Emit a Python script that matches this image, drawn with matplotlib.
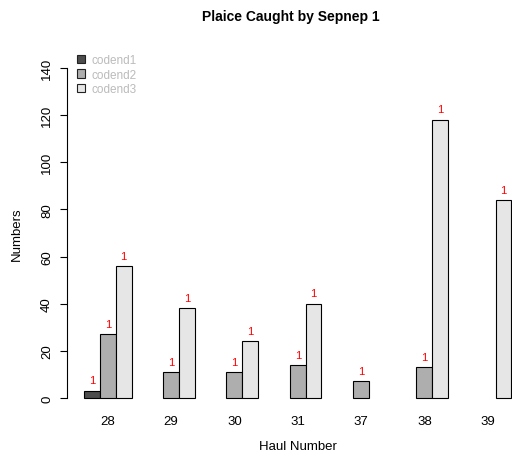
import numpy as np
import matplotlib
matplotlib.use('Agg')
import matplotlib.pyplot as plt
from matplotlib.patches import Patch

plt.rcParams['font.family'] = ['Liberation Sans', 'DejaVu Sans']

# data
hauls = ['28', '29', '30', '31', '37', '38', '39']
series_names = ['codend1', 'codend2', 'codend3']
codend1 = [3, 0, 0, 0, 0, 0, 0]
codend2 = [27, 11, 11, 14, 7, 13, 0]
codend3 = [56, 38, 24, 40, 0, 118, 84]
# number shown in red over each bar
codend1_n = [1, 0, 0, 0, 0, 0, 0]
codend2_n = [1, 1, 1, 1, 1, 1, 0]
codend3_n = [1, 1, 1, 1, 0, 1, 1]

colors = ['#4D4D4D', '#AEAEAE', '#E6E6E6']

fig = plt.figure(figsize=(5.12, 4.6), dpi=100)
# R style plot region, the right side runs past the figure edge
ax = fig.add_axes([0.1307, 0.104, 0.9016, 0.7748])

values = [codend1, codend2, codend3]
counts = [codend1_n, codend2_n, codend3_n]
ngroup = len(hauls)
group_start = 1 + 4 * np.arange(ngroup)

for j, (vals, ns) in enumerate(zip(values, counts)):
    x = group_start + j + 0.5
    lw = [0.8 if v > 0 else 0 for v in vals]
    ax.bar(x, vals, width=1.0, color=colors[j], edgecolor='black',
           linewidth=lw, label=series_names[j])
    for xi, v, n in zip(x, vals, ns):
        if n > 0:
            ax.annotate(str(n), (xi, v), xytext=(0, 7.5),
                        textcoords='offset points', ha='center',
                        va='center', color='red', fontsize=8)

ax.set_xlim(-0.08, 29.08)
ax.set_ylim(-5.6, 145.6)

ax.set_xticks(group_start + 1.5)
ax.set_xticklabels(hauls, fontsize=9.5)
ax.tick_params(axis='x', length=0, pad=2.5)

ax.set_yticks(np.arange(0, 141, 20))
ax.tick_params(axis='y', length=5, width=0.8, pad=5, labelsize=9.5)
for lab in ax.get_yticklabels():
    lab.set_rotation(90)
    lab.set_va('center')

for s in ['top', 'right', 'bottom']:
    ax.spines[s].set_visible(False)
ax.spines['left'].set_bounds(0, 140)
ax.spines['left'].set_linewidth(0.8)

ax.set_title('Plaice Caught by Sepnep 1', fontsize=10, fontweight='bold',
             pad=25, x=0.4855)
ax.set_xlabel('Haul Number', fontsize=9.5)
ax.xaxis.set_label_coords(0.5, -0.08)
ax.set_ylabel('Numbers', fontsize=9.5)
ax.yaxis.set_label_coords(-0.095, 0.5)

handles = [Patch(facecolor=c, edgecolor='#222222', linewidth=0.8) for c in colors]
leg = fig.legend(handles, series_names, loc='upper left',
                 bbox_to_anchor=(77 / 512, 1 - 55 / 460), frameon=False,
                 fontsize=8.5, handlelength=0.7, handleheight=0.7,
                 handletextpad=0.55, labelspacing=0.22, borderpad=0,
                 borderaxespad=0)
for t in leg.get_texts():
    t.set_color('#BBBBBB')

fig.savefig('out.png', dpi=100)
